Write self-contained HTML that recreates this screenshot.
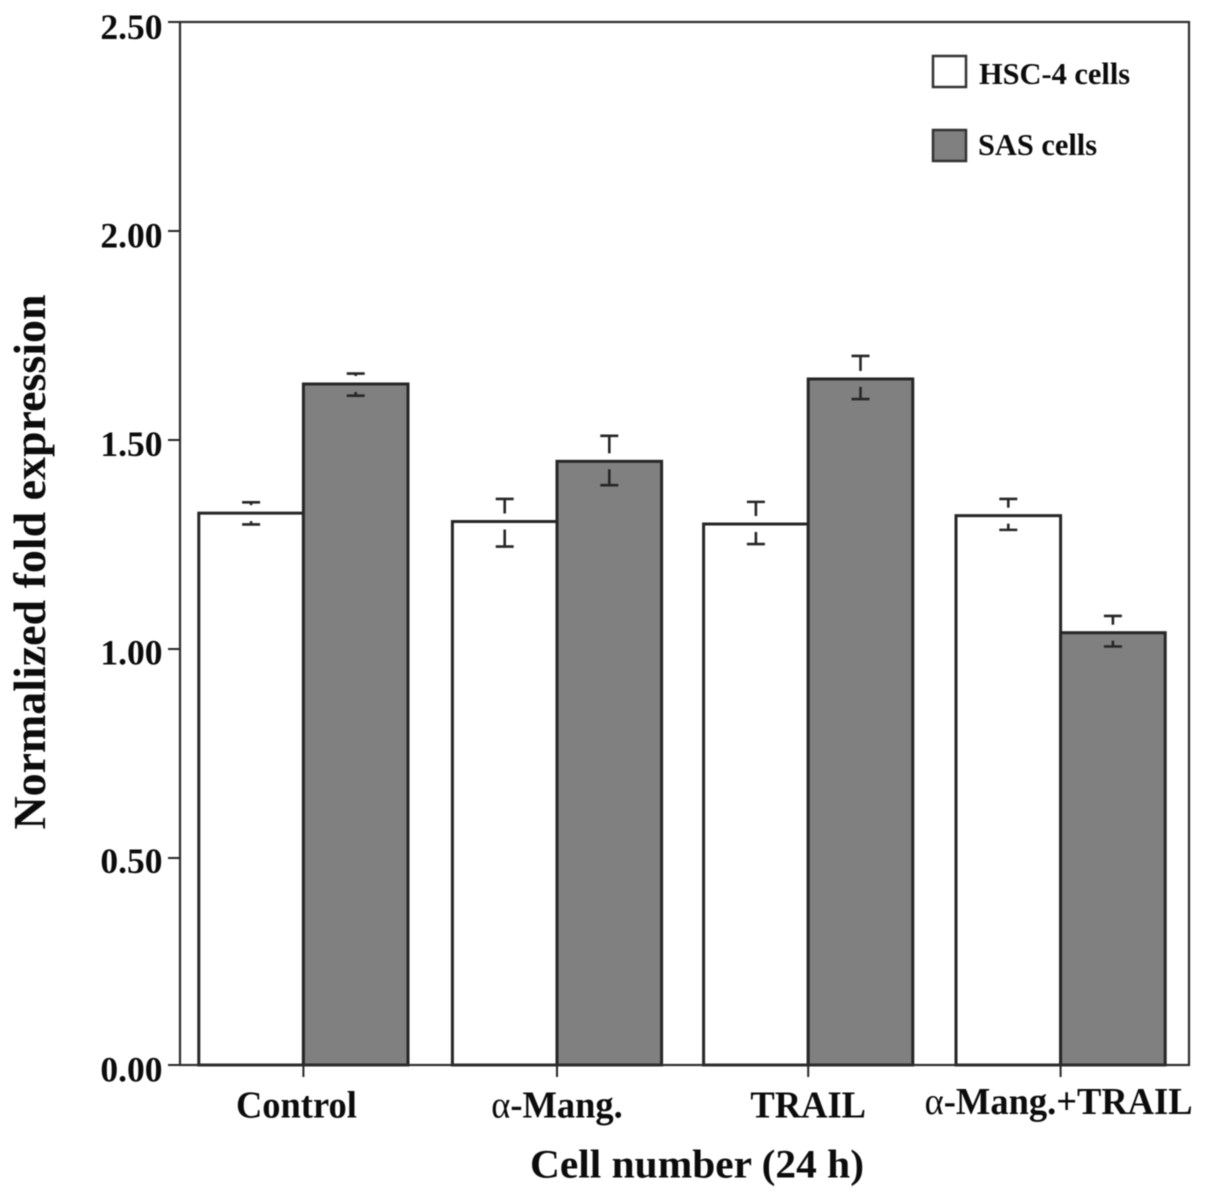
<!DOCTYPE html>
<html lang="en">
<head>
<meta charset="utf-8">
<title>Normalized fold expression</title>
<style>
html,body{margin:0;padding:0;background:#fff;width:1205px;height:1198px;overflow:hidden}
svg{display:block;filter:blur(0.6px)}
text{font-family:"Liberation Serif",serif;font-weight:bold;fill:#0c0c0c}
</style>
</head>
<body>
<svg id="chart" width="1205" height="1198" viewBox="0 0 1205 1198" xmlns="http://www.w3.org/2000/svg">
  <rect x="0" y="0" width="1205" height="1198" fill="#fff"/>
  <g id="bars"></g>
  <g id="errors"></g>
  <rect x="180" y="22" width="1009" height="1043" fill="none" stroke="#2e2e2e" stroke-width="2.2"/>
  <g id="yaxis"></g>
  <g id="xaxis"></g>
  <text transform="translate(45,562) rotate(-90)" text-anchor="middle" font-size="46" textLength="535" lengthAdjust="spacingAndGlyphs">Normalized fold expression</text>
  <text x="697" y="1177.5" text-anchor="middle" font-size="40.5" textLength="334" lengthAdjust="spacingAndGlyphs">Cell number (24 h)</text>
  <g>
    <g>
      <rect x="933" y="56" width="33" height="31" fill="#fff" stroke="#333" stroke-width="2.5"/>
      <text x="979" y="84" font-size="30.4">HSC-4 cells</text>
    </g>
    <g>
      <rect x="933" y="130" width="33" height="31" fill="#808080" stroke="#333" stroke-width="2.5"/>
      <text x="978" y="155" font-size="30.4">SAS cells</text>
    </g>
  </g>
</svg>
<script>
const categories = ['Control', 'α-Mang.', 'TRAIL', 'α-Mang.+TRAIL'];
const hscValues = [1.325, 1.305, 1.299, 1.319];
const sasValues = [1.634, 1.449, 1.646, 1.039];
const hscUpper = [1.351, 1.359, 1.352, 1.359];
const hscLower = [1.298, 1.245, 1.251, 1.285];
const sasUpper = [1.659, 1.510, 1.701, 1.079];
const sasLower = [1.606, 1.392, 1.598, 1.006];
const yTicks = [0, 0.5, 1, 1.5, 2, 2.5];
const yTickLabels = ['0.00', '0.50', '1.00', '1.50', '2.00', '2.50'];

const NS = 'http://www.w3.org/2000/svg';
const INK = '#262626';
const BASE = 1065;
const y = v => Math.min(BASE, 1067 - v * 418);
const labelBaseline = v => 1081.5 - v * 417;
const groupCenter = i => 303.4 + i * 252.4 + (i === 1 ? 1.2 : 0);
const BAR_W = 104.6;
const HALO = 8;

function make(tag, attrs, parent) {
  const el = document.createElementNS(NS, tag);
  for (const k in attrs) el.setAttribute(k, attrs[k]);
  parent.appendChild(el);
  return el;
}
const barsG = document.getElementById('bars');
const errG = document.getElementById('errors');
const yG = document.getElementById('yaxis');
const xG = document.getElementById('xaxis');

function drawBar(x, v, fill, name) {
  const el = make('rect', {x: x, y: y(v), width: BAR_W, height: BASE - y(v), fill: fill, stroke: INK, 'stroke-width': 3}, barsG);
  
  
}
function drawSegment(x1, y1, x2, y2, parent, name, width) {
  const el = make('line', {x1: x1, y1: y1, x2: x2, y2: y2, stroke: INK, 'stroke-width': width}, parent);
  
  
}
function drawError(cx, v, hi, lo, name) {
  const top = y(v), yHi = y(hi), yLo = y(lo);
  drawSegment(cx - 9, yHi, cx + 9, yHi, errG, name + '-upper-cap', 2.6);
  drawSegment(cx - 9, yLo, cx + 9, yLo, errG, name + '-lower-cap', 2.6);
  if (top - HALO > yHi) drawSegment(cx, yHi, cx, top - HALO, errG, name + '-upper-stem', 2.6);
  if (top + HALO < yLo) drawSegment(cx, top + HALO, cx, yLo, errG, name + '-lower-stem', 2.6);
}

categories.forEach((c, i) => {
  const cx = groupCenter(i);
  drawBar(cx - BAR_W, hscValues[i], '#fff', 'bar-hsc4-' + i);
  drawBar(cx, sasValues[i], '#808080', 'bar-sas-' + i);
  drawError(cx - BAR_W / 2, hscValues[i], hscUpper[i], hscLower[i], 'error-hsc4-' + i);
  drawError(cx + BAR_W / 2, sasValues[i], sasUpper[i], sasLower[i], 'error-sas-' + i);
  drawSegment(cx, BASE, cx, BASE + 12, xG, 'x-tick-' + i, 2);
  const nudge = i === 0 ? -7 : i === 3 ? -2 : 0;
  const t = make('text', {x: cx + nudge, y: i === 3 ? 1114 : 1117.5, 'text-anchor': 'middle', 'font-size': 38}, xG);
  
  
  if (c.charAt(0) === 'α') {
    const a = make('tspan', {'font-weight': 'normal'}, t);
    a.textContent = 'α';
    const r = make('tspan', {}, t);
    r.textContent = c.slice(1);
  } else {
    t.textContent = c;
  }
  t.setAttribute('lengthAdjust', 'spacingAndGlyphs');
  t.setAttribute('textLength', (t.getComputedTextLength() * 0.96).toFixed(1));
});

yTicks.forEach((v, i) => {
  drawSegment(168, y(v), 180, y(v), yG, 'y-tick-' + i, 2);
  const t = make('text', {x: 162.5, y: labelBaseline(v), 'text-anchor': 'end', 'font-size': 35.5}, yG);
  
  
  t.textContent = yTickLabels[i];
});
</script>
</body>
</html>
